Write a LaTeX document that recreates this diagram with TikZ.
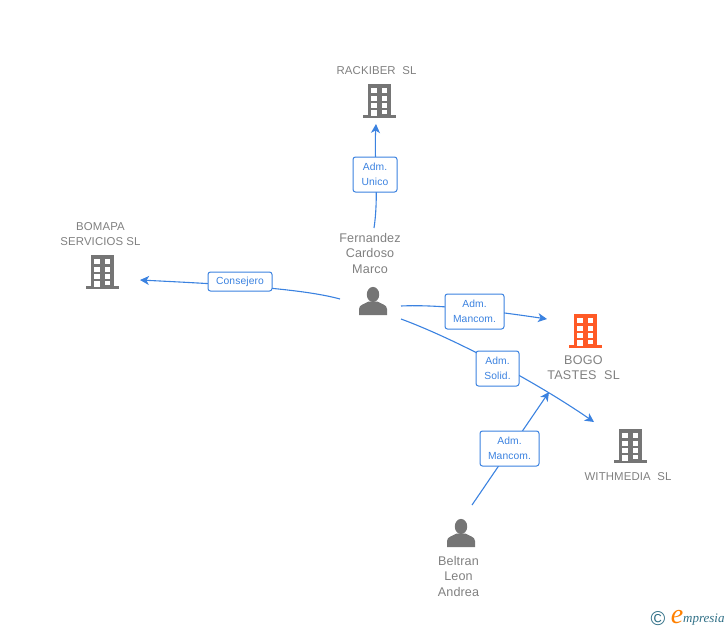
\documentclass[tikz,border=0pt]{standalone}
\usepackage{fontspec}
\setmainfont{Liberation Sans}
\newfontfamily\logofont{Liberation Serif}
\usetikzlibrary{arrows.meta}
\definecolor{lnk}{HTML}{3B82E0}
\definecolor{gry}{HTML}{757575}
\definecolor{txt}{HTML}{808080}
\definecolor{org}{HTML}{FF5A26}
\definecolor{logoteal}{HTML}{2F6F86}
\tikzset{
  x=1pt,y=-1pt,
  conn/.style={draw=lnk,line width=1.1pt,-{Stealth[length=9pt,width=9pt,inset=2.5pt]}},
  lab/.style={draw=lnk,line width=1pt,rounded corners=2.5pt,fill=white,text=lnk,font=\fontsize{10.3}{15}\selectfont\addfontfeature{LetterSpace=1},align=center,inner sep=0pt},
  entity/.style={text=txt,font=\fontsize{11.4}{15}\selectfont\addfontfeature{LetterSpace=1},align=center,inner sep=0pt},
  bigentity/.style={text=txt,font=\fontsize{12.6}{15}\selectfont\addfontfeature{LetterSpace=2},align=center,inner sep=0pt},
  personname/.style={text=txt,font=\fontsize{12.6}{15.5}\selectfont\addfontfeature{LetterSpace=1},align=center,inner sep=0pt},
  building/.pic={
    \fill[pic actions] (-11.5,-17) rectangle (11.5,14.5);
    \fill[pic actions] (-16.5,14) rectangle (16.5,16.8);
    \foreach \yy in {-13,-5.5,2}{
      \fill[white] (-8,\yy) rectangle (-2.5,\yy+5);
      \fill[white] (2.5,\yy) rectangle (8,\yy+5);}
    \fill[white] (2.5,9) rectangle (8,12.5);
    \fill[white] (-8,9) rectangle (-2.5,14.5);
  },
  person/.pic={
    \fill[gry] (-14,14) -- (-14,8) .. controls (-14,3.5) and (-8,3) .. (-4.5,0.5)
      -- (4.5,0.5) .. controls (8,3) and (14,3.5) .. (14,8) -- (14,14) -- cycle;
    \fill[gry] (0,-6.5) ellipse (6.2pt and 7.6pt);
  }
}
\begin{document}
\begin{tikzpicture}
\useasboundingbox (0,0) rectangle (728,630);
% end points
\coordinate (c1s) at (374,228); \coordinate (c1e) at (376,124);
\coordinate (c2s) at (340,299); \coordinate (c2e) at (140,280);
\coordinate (c3s) at (401,306); \coordinate (c3e) at (547,319);
\coordinate (c4s) at (401,319); \coordinate (c4e) at (594,422);
\coordinate (c5s) at (472,505); \coordinate (c5e) at (549,392);
% icons
\pic[fill=gry] at (379,101) {building};
\pic[fill=gry] at (102,272) {building};
\pic[fill=org] at (585,331) {building};
\pic[fill=gry] at (630,446) {building};
\pic at (373,301) {person};
\pic at (461,533) {person};
% connectors
\draw[conn] (c1s) .. controls (379,195) and (374,160) .. (c1e);
\draw[conn] (c2s) .. controls (300,288) and (220,284) .. (c2e);
\draw[conn] (c3s) .. controls (440,304) and (500,312) .. (c3e);
\draw[conn] (c4s) .. controls (450,337) and (530,378) .. (c4e);
\draw[conn] (c5s) -- (c5e);
% connector labels
\node[lab,minimum width=44pt,minimum height=35pt] (l1) at (375,174.5) {Adm.\\Unico};
\node[lab,minimum width=64pt,minimum height=19pt] (l2) at (240,281.5) {Consejero};
\node[lab,minimum width=59pt,minimum height=35pt] (l3) at (474.5,311.5) {Adm.\\Mancom.};
\node[lab,minimum width=43pt,minimum height=35pt] (l4) at (497.5,368.5) {Adm.\\Solid.};
\node[lab,minimum width=59pt,minimum height=35pt] (l5) at (509.5,448.5) {Adm.\\Mancom.};
% names
\node[entity] (n1) at (376.5,70.5) {RACKIBER\ \ SL};
\node[entity] (n2) at (100.5,234) {BOMAPA\\SERVICIOS SL};
\node[bigentity] (n3) at (583.5,367.5) {BOGO\\TASTES\ \ SL};
\node[entity] (n4) at (628,476.5) {WITHMEDIA\ \ SL};
\node[personname] (n5) at (370,253) {Fernandez\\Cardoso\\Marco};
\node[personname] (n6) at (458.5,576) {Beltran\\Leon\\Andrea};
% logo
\node[text=logoteal,inner sep=0pt,font=\fontsize{20}{20}\selectfont] (cp) at (658,619) {©};
\node[text=orange,inner sep=0pt,font=\logofont\itshape\fontsize{28}{28}\selectfont] (e) at (677,617) {e};
\node[text=logoteal,inner sep=0pt,anchor=west,font=\logofont\itshape\fontsize{13}{13}\selectfont] (m) at (683,620) {mpresia};
\end{tikzpicture}
\end{document}
